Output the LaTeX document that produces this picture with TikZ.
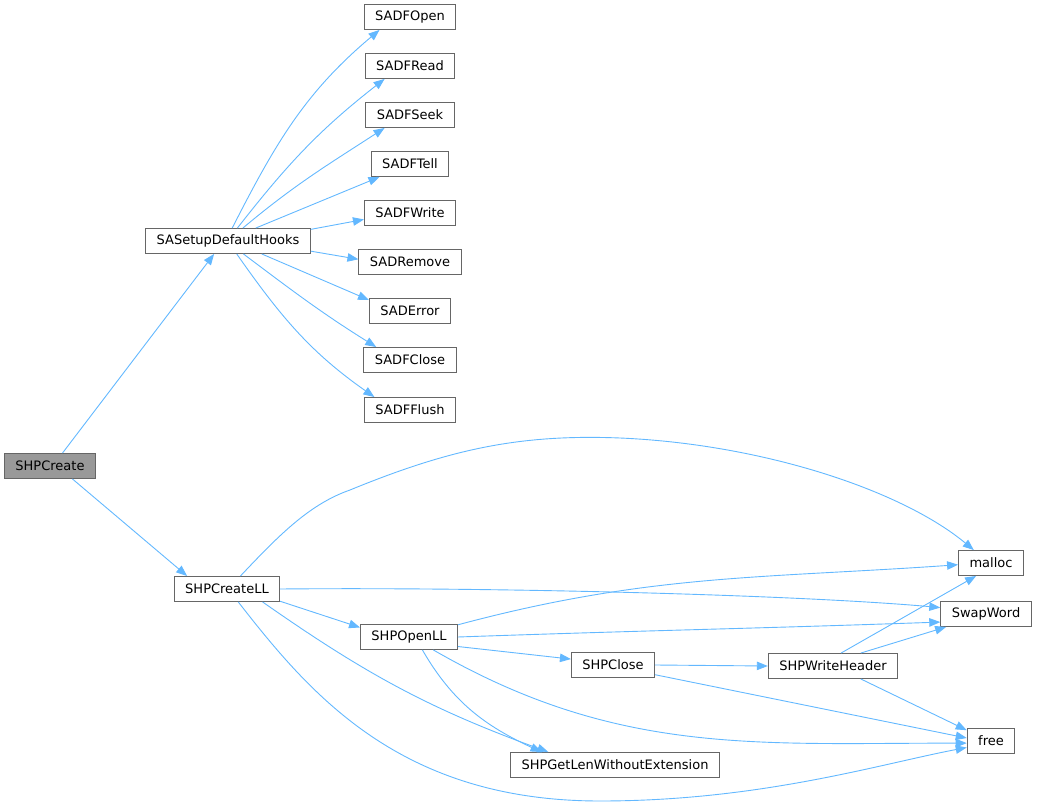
\documentclass[tikz,border=0pt]{standalone}
\usepackage{fontspec}
\setmainfont{DejaVu Sans}
\usetikzlibrary{arrows.meta}
\definecolor{edgeblue}{HTML}{63B8FF}
\definecolor{boxgray}{HTML}{666666}
\definecolor{rootgray}{HTML}{999999}
\begin{document}
\begin{tikzpicture}[x=1pt, y=1pt,
    fn/.style={draw=boxgray, fill=white, line width=0.9pt, minimum height=25pt,
      inner xsep=11pt, inner ysep=0pt, font=\fontsize{13pt}{15pt}\selectfont},
    root/.style={fn, fill=rootgray},
    call/.style={->, draw=edgeblue, line width=0.9pt},
    >={Triangle[length=11pt, width=8.5pt]}]
    \useasboundingbox (0,0) rectangle (1043,809);

    % Caller
    \node[root] (shpcreate) at (50,343) {SHPCreate};

    % First level
    \node[fn] (hooks) at (228,568) {SASetupDefaultHooks};
    \node[fn] (createll) at (227,220) {SHPCreateLL};

    % Default hooks
    \node[fn] (fopen)  at (410,792) {SADFOpen};
    \node[fn] (fread)  at (410,743) {SADFRead};
    \node[fn] (fseek)  at (410,694) {SADFSeek};
    \node[fn] (ftell)  at (410,645) {SADFTell};
    \node[fn] (fwrite) at (410,596) {SADFWrite};
    \node[fn] (remove) at (410,547) {SADRemove};
    \node[fn] (error)  at (410,498) {SADError};
    \node[fn] (fclose) at (410,449) {SADFClose};
    \node[fn] (fflush) at (410,399) {SADFFlush};

    % Shapefile calls
    \node[fn] (openll)   at (409,172) {SHPOpenLL};
    \node[fn] (close)    at (613,144) {SHPClose};
    \node[fn] (writehdr) at (833,143) {SHPWriteHeader};
    \node[fn] (getlen)   at (615,44)  {SHPGetLenWithoutExtension};
    \node[fn] (malloc)   at (991,246) {malloc};
    \node[fn] (swapword) at (986,195) {SwapWord};
    \node[fn] (free)     at (991,68)  {free};

    % SHPCreate
    \draw[call] (shpcreate.46) -- (hooks.223);
    \draw[call] (shpcreate.-30) -- (createll.162);

    % SASetupDefaultHooks
    \draw[call] (hooks.72) to[out=63, in=220] (fopen.203);
    \draw[call] (hooks.54) to[out=52, in=218] (fread.207);
    \draw[call] (hooks.41) to[out=40, in=213] (fseek.207);
    \draw[call] (hooks.25) -- (ftell.203);
    \draw[call] (hooks.8) -- (fwrite.188);
    \draw[call] (hooks.-7) -- (remove.177);
    \draw[call] (hooks.-21) -- (error.165);
    \draw[call] (hooks.-40) to[out=-37, in=148] (fclose.159);
    \draw[call] (hooks.-56) to[out=-55, in=145] (fflush.160);

    % SHPCreateLL
    \draw[call] (createll.44) .. controls (280,275) and (310,305) .. (350,319)
      .. controls (450,360) and (520,375) .. (620,371)
      .. controls (760,365) and (900,320) .. (malloc.143);
    \draw[call] (createll.east) .. controls (500,222) and (800,214) .. (swapword.172);
    \draw[call] (createll.-13) -- (openll.169);
    \draw[call] (createll.-20) to[out=-35, in=160] (getlen.169);
    \draw[call] (createll.-49) .. controls (310,115) and (400,8) .. (600,8)
      .. controls (760,8) and (880,45) .. (free.195);

    % SHPOpenLL
    \draw[call] (openll.14) to[out=15, in=184] (malloc.183);
    \draw[call] (openll.east) to[out=2, in=182] (swapword.190);
    \draw[call] (openll.-11) -- (close.172);
    \draw[call] (openll.-44) to[out=-60, in=155] (getlen.170);
    \draw[call] (openll.-28) to[out=-30, in=180] (free.185);

    % SHPClose
    \draw[call] (close.east) -- (writehdr.west);
    \draw[call] (close.-13) -- (free.173);

    % SHPWriteHeader
    \draw[call] (writehdr.58) -- (malloc.221);
    \draw[call] (writehdr.25) -- (swapword.198);
    \draw[call] (writehdr.-25) -- (free.156);
\end{tikzpicture}
\end{document}
